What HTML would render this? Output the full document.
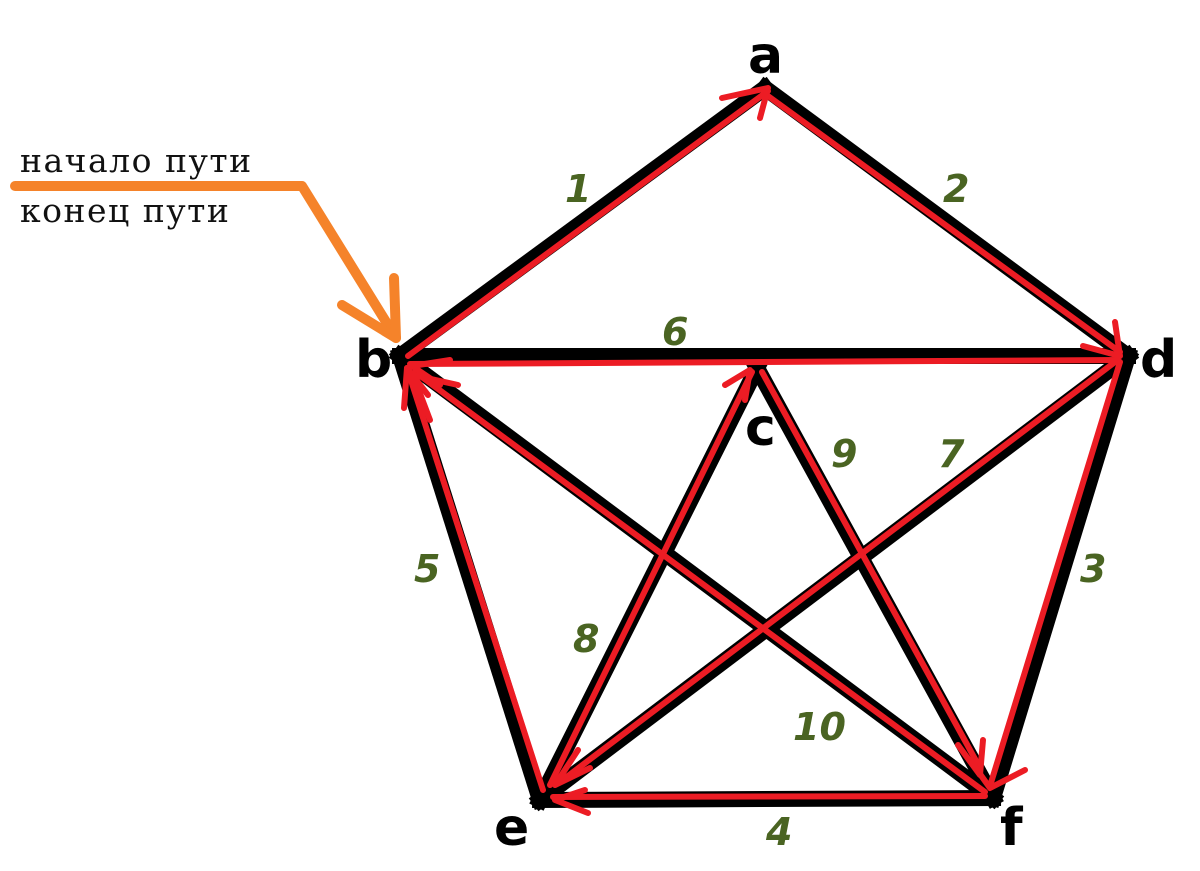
<!DOCTYPE html>
<html><head><meta charset="utf-8"><style>
html,body{margin:0;padding:0;background:#fff;width:1200px;height:871px;overflow:hidden}
</style></head><body>
<svg width="1200" height="871" viewBox="0 0 1200 871" xmlns="http://www.w3.org/2000/svg">
<g stroke="#000" stroke-width="16" stroke-linecap="square" fill="none">
<line x1="765" y1="88" x2="400" y2="356"/>
<line x1="765" y1="88" x2="1128" y2="356"/>
<line x1="400" y1="356" x2="1128" y2="356"/>
<line x1="400" y1="356" x2="540" y2="800"/>
<line x1="1128" y1="356" x2="993" y2="798"/>
<line x1="540" y1="800" x2="993" y2="798"/>
<line x1="400" y1="356" x2="993" y2="798"/>
<line x1="757" y1="368" x2="540" y2="800"/>
<line x1="757" y1="368" x2="993" y2="798"/>
<line x1="1128" y1="356" x2="540" y2="800"/>
</g>
<g stroke="#ec1c24" stroke-width="6" stroke-linecap="round" stroke-linejoin="round" fill="none">
<line x1="408" y1="356" x2="768" y2="91"/>
<line x1="768" y1="96" x2="1120" y2="352"/>
<line x1="410" y1="364" x2="1118" y2="360"/>
<line x1="407" y1="368" x2="543" y2="790"/>
<line x1="1120" y1="362" x2="990" y2="786"/>
<line x1="553" y1="797" x2="985" y2="796"/>
<line x1="415" y1="372" x2="985" y2="792"/>
<line x1="752" y1="372" x2="550" y2="785"/>
<line x1="762" y1="372" x2="980" y2="768"/>
<line x1="1115" y1="362" x2="560" y2="782"/>
<polyline points="722,98 768,88 760,118"/>
<polyline points="1083,346 1120,356 1115,322"/>
<polyline points="450,360 412,366 440,385"/>
<polyline points="404,408 407,368 428,395"/>
<polyline points="430,420 413,375 458,385"/>
<polyline points="725,385 750,370 745,400"/>
<polyline points="958,745 980,775 983,740"/>
<polyline points="970,760 990,788 1025,770"/>
<polyline points="585,790 555,800 588,813"/>
<polyline points="590,768 555,785 578,750"/>
</g>
<g stroke="#f5832a" stroke-width="10" stroke-linecap="round" stroke-linejoin="round" fill="none">
<polyline points="15,186 302,186 396,338"/>
<polyline points="342,305 396,338 394,278"/>
</g>
<g font-family="DejaVu Sans, sans-serif" font-weight="bold" font-size="52" fill="#000">
<text x="748" y="73">a</text>
<text x="355" y="377">b</text>
<text x="1140" y="377">d</text>
<text x="745" y="445">c</text>
<text x="494" y="845">e</text>
<text x="1000" y="845">f</text>
</g>
<g font-family="DejaVu Sans, sans-serif" font-weight="bold" font-style="italic" font-size="38" fill="#4a6422">
<text x="565" y="202">1</text>
<text x="943" y="202">2</text>
<text x="1080" y="582">3</text>
<text x="766" y="845">4</text>
<text x="414" y="582">5</text>
<text x="662" y="345">6</text>
<text x="938" y="467">7</text>
<text x="573" y="652">8</text>
<text x="831" y="467">9</text>
<text x="793" y="740">10</text>
</g>
<g font-family="DejaVu Serif, serif" font-size="33" fill="#111" letter-spacing="1.5">
<text x="20" y="172">начало пути</text>
<text x="20" y="222">конец пути</text>
</g>
</svg>
</body></html>
